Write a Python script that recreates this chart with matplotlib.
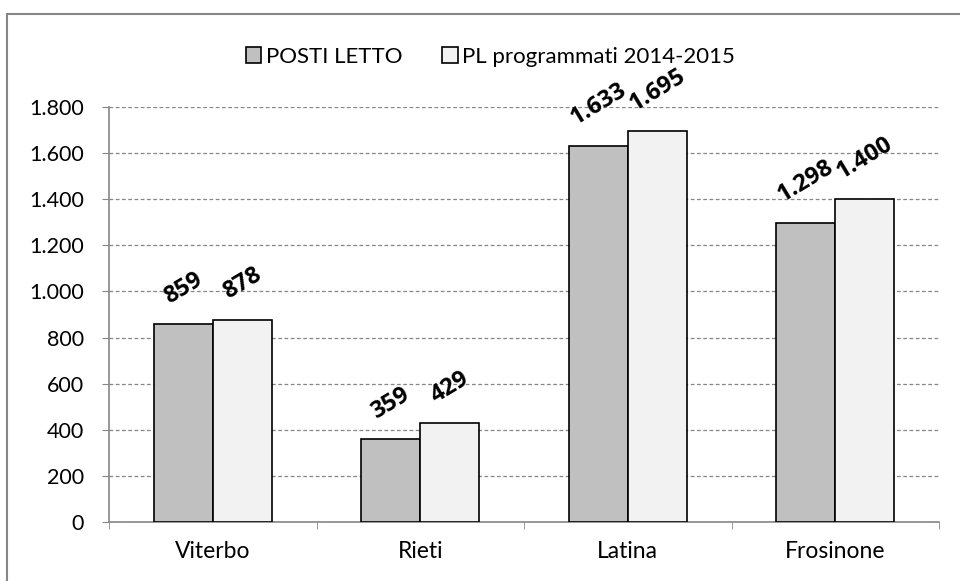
import numpy as np
import matplotlib.pyplot as plt
from matplotlib.patches import Rectangle
from matplotlib.ticker import FuncFormatter

plt.rcParams['font.family'] = ['Lato', 'DejaVu Sans']

province = ['Viterbo', 'Rieti', 'Latina', 'Frosinone']
posti_letto = [859, 359, 1633, 1298]
pl_programmati = [878, 429, 1695, 1400]
series_names = ['POSTI LETTO', 'PL programmati 2014-2015']


def fmt_it(v):
    return f"{int(v):,}".replace(",", ".")


fig = plt.figure(figsize=(9.6, 5.81), dpi=100)
ax = fig.add_axes([109 / 960, 59 / 581, 830 / 960, 415 / 581])

# outer chart frame (only top and left visible)
fig.patches.append(Rectangle((7 / 960, -0.2), 1.2, 0.2 + (581 - 14) / 581,
                             transform=fig.transFigure, fill=False,
                             edgecolor='#868686', linewidth=1.5))

x = np.arange(len(province))
w = 0.285
b1 = ax.bar(x - w / 2, posti_letto, w, color='#C0C0C0', edgecolor='black',
            linewidth=1.2, label=series_names[0], zorder=3)
b2 = ax.bar(x + w / 2, pl_programmati, w, color='#F2F2F2', edgecolor='black',
            linewidth=1.2, label=series_names[1], zorder=3)

for bars in (b1, b2):
    for rect in bars:
        h = rect.get_height()
        ax.annotate(fmt_it(h), (rect.get_x() + rect.get_width() / 2, h),
                    xytext=(0, 11), textcoords='offset points',
                    ha='center', va='bottom', rotation=31, fontsize=17,
                    fontweight='bold', family=['Open Sans', 'DejaVu Sans'],
                    zorder=4)

ax.set_xlim(-0.5, len(province) - 0.5)
ax.set_ylim(0, 1800)
ax.set_yticks(range(0, 1801, 200))
ax.yaxis.set_major_formatter(FuncFormatter(lambda v, p: fmt_it(v)))
ax.set_xticks(x)
ax.set_xticklabels(province)
ax.set_xticks(np.arange(-0.5, len(province)), minor=True)
ax.tick_params(axis='x', which='major', length=0, labelsize=16.5, pad=14)
ax.tick_params(axis='x', which='minor', length=5, color='#868686', direction='out')
ax.tick_params(axis='y', length=5, color='#868686', labelsize=15.5, pad=13)

ax.grid(axis='y', linestyle=(0, (3, 2)), color='#868686', linewidth=0.9, zorder=0)
for s in ('top', 'right'):
    ax.spines[s].set_visible(False)
for s in ('left', 'bottom'):
    ax.spines[s].set_color('#868686')
    ax.spines[s].set_linewidth(1.2)

fig.legend(handles=[b1, b2], loc='center', bbox_to_anchor=(0.511, 1 - 57 / 581),
           ncol=2, frameon=False, fontsize=16, handlelength=0.7, handleheight=0.7,
           handletextpad=0.2, columnspacing=1.8)

fig.savefig('out.png', dpi=100)
